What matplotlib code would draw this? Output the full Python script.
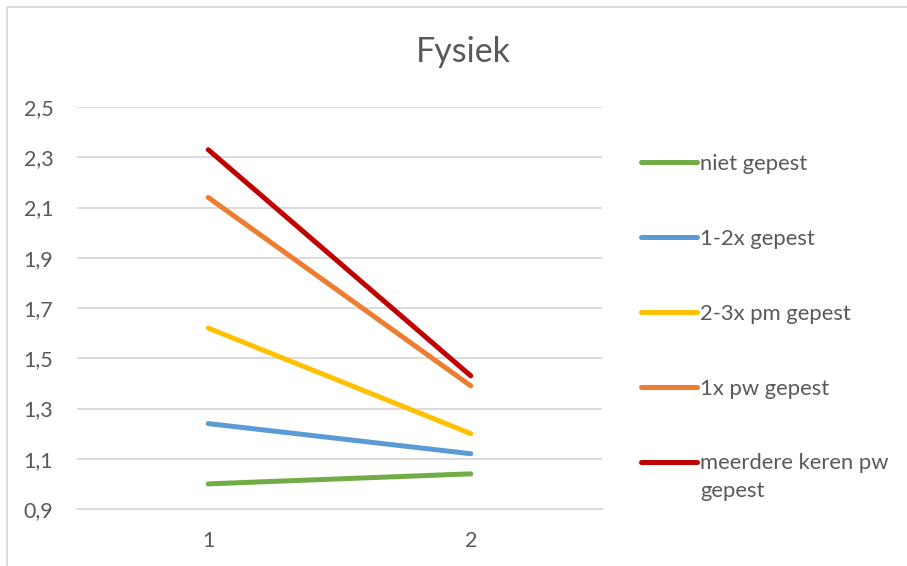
import matplotlib.pyplot as plt
from matplotlib.patches import Rectangle

plt.rcParams['font.family'] = ['Lato', 'DejaVu Sans']

# data
categories = [1, 2]
series_names = ['niet gepest', '1-2x gepest', '2-3x pm gepest',
                '1x pw gepest', 'meerdere keren pw']
niet_gepest = [1.00, 1.04]
een_twee_x = [1.24, 1.12]
twee_drie_pm = [1.62, 1.20]
een_pw = [2.14, 1.39]
meerdere_pw = [2.33, 1.43]
yticks = [0.9, 1.1, 1.3, 1.5, 1.7, 1.9, 2.1, 2.3, 2.5]

colors = ['#70AD47', '#5B9BD5', '#FFC000', '#ED7D31', '#C00000']
text_col = '#595959'
grid_col = '#D9D9D9'

fig = plt.figure(figsize=(9.07, 5.66), dpi=100)
ax = fig.add_axes([77/907, 1 - 509/566, 525/907, 402/566])

all_series = [niet_gepest, een_twee_x, twee_drie_pm, een_pw, meerdere_pw]
for vals, name, c in zip(all_series, series_names, colors):
    ax.plot(categories, vals, color=c, lw=3.6, solid_capstyle='round',
            label=name)

ax.set_xlim(0.5, 2.5)
ax.set_ylim(0.9, 2.5)
ax.set_xticks(categories)
ax.set_xticklabels([str(c) for c in categories])
ax.set_yticks(yticks)
ax.set_yticklabels([f'{v:.1f}'.replace('.', ',') for v in yticks])
ax.tick_params(length=0, labelsize=15.5, colors=text_col)
ax.tick_params(axis='y', pad=17)
ax.tick_params(axis='x', pad=16)
ax.yaxis.grid(True, color=grid_col, lw=1.3)
ax.set_axisbelow(True)
for s in ['top', 'right', 'left']:
    ax.spines[s].set_visible(False)
ax.spines['bottom'].set_color(grid_col)
ax.spines['bottom'].set_linewidth(1.3)

fig.text(463/907, 1 - 52/566, 'Fysiek', ha='center', va='center',
         fontsize=24.5, color=text_col)

leg = ax.legend(loc='upper left', bbox_to_anchor=(641/907, 1 - 154/566),
                bbox_transform=fig.transFigure, frameon=False, fontsize=15.8,
                borderpad=0, borderaxespad=0, handlelength=2.55,
                handletextpad=0.15, labelspacing=2.5, labelcolor=text_col)
for h in leg.get_lines():
    h.set_linewidth(3.6)
    h.set_solid_capstyle('round')

# second line of the last legend label
fig.canvas.draw()
bb = leg.get_texts()[-1].get_window_extent()
fig.text(bb.x0 / 907, (bb.y1 - 28) / 566, 'gepest', fontsize=15.8,
         color=text_col, va='top', ha='left')

# outer chart frame
fig.patches.append(Rectangle((7/907, -0.05), 1.2, 1 - 7/566 + 0.05,
                             transform=fig.transFigure, fill=False,
                             edgecolor=grid_col, lw=1.3))

fig.savefig('out.png', dpi=100)
